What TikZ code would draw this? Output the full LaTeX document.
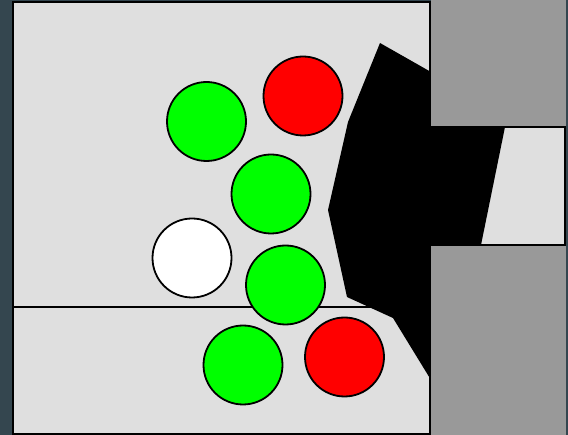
\documentclass[tikz,border=0pt]{standalone}
\begin{document}
\begin{tikzpicture}[x=1pt,y=-1pt,
  ball/.style={circle,draw=black,line width=1.8pt,minimum size=79pt,inner sep=0pt},
  edge/.style={draw=black,line width=2pt}]
\definecolor{bgslate}{HTML}{34464F}
\definecolor{lightbox}{HTML}{DFDFDF}
\definecolor{wall}{HTML}{999999}
\definecolor{ballgreen}{HTML}{00FF00}
\definecolor{ballred}{HTML}{FF0000}
\fill[bgslate] (0,0) rectangle (568,435);
\useasboundingbox (0,0) rectangle (568,435);
% main chamber
\draw[edge,fill=lightbox] (13,2) rectangle (429.5,434);
\draw[edge] (13,307.5) -- (400,307.5);
% channel box on the right
\draw[edge,fill=lightbox] (430,127) rectangle (565,245);
% black plunger
\fill[black] (380,43) -- (431,72) -- (431,127) -- (505,127) -- (481,245) -- (431,245)
  -- (431,380) -- (393,318) -- (347,297) -- (328,210) -- (348,122) -- cycle;
% grey walls
\fill[wall] (431,0) rectangle (566,126);
\fill[wall] (431,246) rectangle (566,435);
% balls
\node[ball,fill=ballgreen] (g1) at (206.5,121.5) {};
\node[ball,fill=ballred]   (r1) at (303,96) {};
\node[ball,fill=ballgreen] (g2) at (271,194) {};
\node[ball,fill=white]     (w1) at (192,258) {};
\node[ball,fill=ballgreen] (g3) at (285.5,285) {};
\node[ball,fill=ballgreen] (g4) at (243,365) {};
\node[ball,fill=ballred]   (r2) at (344.5,357) {};
\end{tikzpicture}
\end{document}
